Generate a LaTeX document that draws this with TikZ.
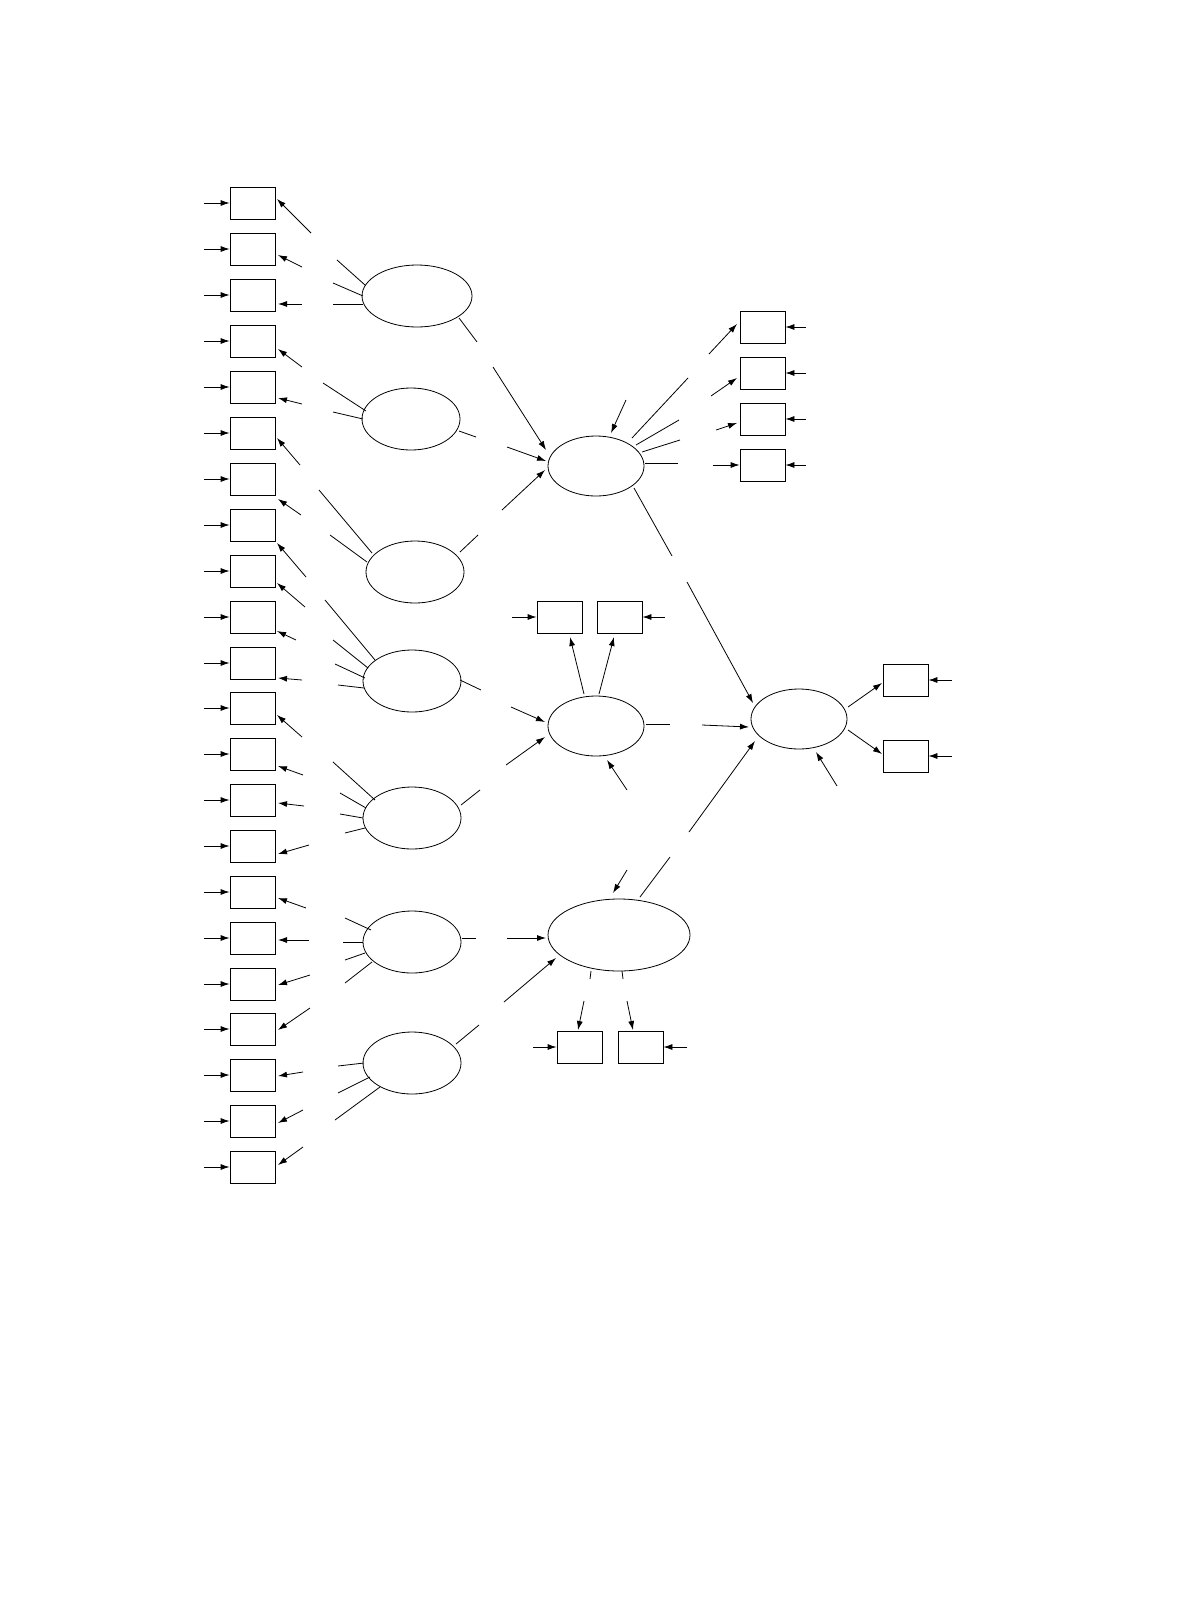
\documentclass[tikz,border=0pt]{standalone}
\usetikzlibrary{arrows.meta,shapes.geometric}
\begin{document}
\begin{tikzpicture}[x=1pt,y=-1pt,line width=0.8pt,
  box/.style={draw,minimum width=45pt,minimum height=32pt,inner sep=0pt},
  lat/.style={draw,ellipse,inner sep=0pt},
  arr/.style={-{Latex[length=9pt,width=6pt]}}]
\useasboundingbox (0,0) rectangle (1176,1609);
% left boxes
\foreach \y [count=\i] in {203,249,295,341,387,433,479,525,571,617,663,708,754,800,846,892,938,984,1029,1075,1121,1167}{
  \node[box] (b\i) at (252.5,\y) {};
  \draw[arr] (204,\y) -- (b\i.west);
}
\foreach \a/\b/\c/\d in {311/233/277/199, 302/267/278/255, 302/304/278/304, 302/367/278/349, 302/404/278/398, 300/465/277/438, 301/515/278/499, 306/577/277/543, 305/607/277/583, 296/640/277/631, 302/680/278/678, 302/737/277/715, 303/775/278/766, 304/806/278/803, 309/845/278/854, 306/908/278/898, 309/940/278/940, 310/975/278/985, 310/1008/278/1030, 303/1072/278/1076, 303/1110/278/1123, 303/1147/278/1165}
  \draw[arr] (\a,\b) -- (\c,\d);
% left latent
\node[lat,minimum width=110pt,minimum height=62pt] (e1) at (417,296) {};
\node[lat,minimum width=98pt,minimum height=62pt] (e2) at (411,419) {};
\node[lat,minimum width=98pt,minimum height=62pt] (e3) at (415,572) {};
\node[lat,minimum width=98pt,minimum height=62pt] (e4) at (412,681) {};
\node[lat,minimum width=98pt,minimum height=62pt] (e5) at (412,818) {};
\node[lat,minimum width=98pt,minimum height=62pt] (e6) at (412,942) {};
\node[lat,minimum width=98pt,minimum height=62pt] (e7) at (412,1063) {};
\foreach \a/\b/\c/\d in {365/285/337/260, 363/296/333/283, 363/304/333/304, 459/318/477/342,
  366/411/323/383, 363/419/333/412, 459/431/476/437,
  372/553/319/490, 367/562/330/535, 460/552/478/535,
  375/660/325/600, 368/668/333/640, 365/678/335/664, 364/688/338/685, 460/680/481/690,
  375/800/333/762, 366/808/340/793, 363/818/340/814, 365/828/345/833, 461/805/480/790,
  371/930/345/918, 363/942/343/942, 365/953/345/960, 372/962/345/983, 462/938/476/938,
  364/1063/338/1066, 370/1077/338/1093, 380/1087/335/1120, 456/1044/479/1025}
  \draw (\a,\b) -- (\c,\d);
% middle latent
\node[lat,minimum width=96pt,minimum height=60pt] (m1) at (596,466) {};
\node[lat,minimum width=96pt,minimum height=60pt] (m2) at (596,726) {};
\node[lat,minimum width=142pt,minimum height=72pt] (m3) at (619,935) {};
\node[lat,minimum width=96pt,minimum height=60pt] (r) at (799,719) {};
% M1
\draw[arr] (493,367) -- (546,450);
\draw[arr] (507,447) -- (546,461);
\draw[arr] (502,510) -- (545,470);
\draw[arr] (626,400) -- (611,433);
\foreach \y [count=\i] in {327,373,419,465}{
  \node[box] (c\i) at (762.5,\y) {};
  \draw[arr] (806,\y) -- (c\i.east);
}
\foreach \a/\b/\c/\d in {632/438/688/378, 636/445/679/420, 642/452/680/440, 645/463/678/463, 634/488/672/556}
  \draw (\a,\b) -- (\c,\d);
\draw[arr] (709,354) -- (737,324);
\draw[arr] (711,396) -- (737,378);
\draw[arr] (716,430) -- (737,423);
\draw[arr] (713,465) -- (c4.west);
\draw[arr] (687,582) -- (753,703);
% M2
\node[box] (d1) at (559.5,617) {};
\node[box] (d2) at (619.5,617) {};
\draw[arr] (512,617) -- (d1.west);
\draw[arr] (665,617) -- (d2.east);
\draw[arr] (584,694) -- (570,637);
\draw[arr] (599,694) -- (614,637);
\draw[arr] (511,707) -- (545,722);
\draw[arr] (506,765) -- (545,737);
\draw[arr] (627,790) -- (607,760);
\draw (646,724) -- (670,724);
\draw[arr] (702,725) -- (749,727);
% M3
\draw[arr] (507,938) -- (546,938);
\draw[arr] (504,1002) -- (556,958);
\draw[arr] (627,870) -- (613,893);
\draw (640,897) -- (670,857);
\draw[arr] (689,832) -- (755,741);
\draw (591,971) -- (590,979);
\draw (622,971) -- (623,979);
\node[box] (f1) at (579.5,1047) {};
\node[box] (f2) at (640.5,1047) {};
\draw[arr] (584,1001) -- (578,1030);
\draw[arr] (627,1001) -- (633,1030);
\draw[arr] (533,1047) -- (f1.west);
\draw[arr] (687,1047) -- (f2.east);
% R
\node[box] (g1) at (905.5,680) {};
\node[box] (g2) at (905.5,756) {};
\draw[arr] (848,707) -- (882,683);
\draw[arr] (848,730) -- (882,754);
\draw[arr] (952,680) -- (g1.east);
\draw[arr] (952,756) -- (g2.east);
\draw[arr] (837,786) -- (816,752);
\end{tikzpicture}
\end{document}
